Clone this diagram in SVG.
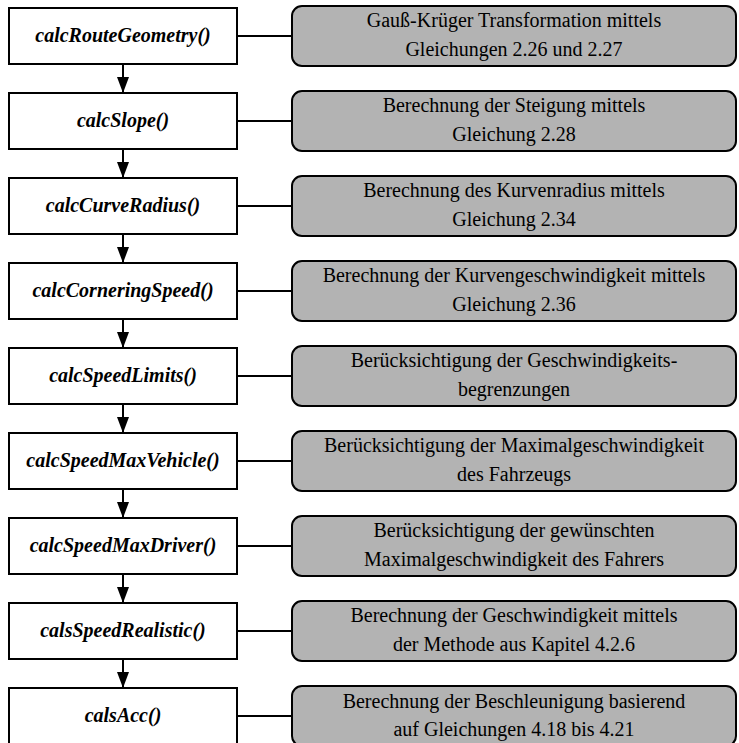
<svg xmlns="http://www.w3.org/2000/svg" width="739" height="743" viewBox="0 0 739 743">
<defs>
<marker id="ah" markerWidth="16" markerHeight="12" refX="16" refY="6" orient="auto" markerUnits="userSpaceOnUse" viewBox="0 0 16 12">
<path d="M0,0 L16,6 L0,12 Z" fill="#000"/>
</marker>
</defs>
<g fill="#fff" stroke="#000" stroke-width="2">
<g id="n1"><rect x="9" y="8" width="228" height="56"/></g>
<g id="n2"><rect x="9" y="93" width="228" height="56"/></g>
<g id="n3"><rect x="9" y="178" width="228" height="56"/></g>
<g id="n4"><rect x="9" y="263" width="228" height="56"/></g>
<g id="n5"><rect x="9" y="348" width="228" height="56"/></g>
<g id="n6"><rect x="9" y="433" width="228" height="56"/></g>
<g id="n7"><rect x="9" y="518" width="228" height="56"/></g>
<g id="n8"><rect x="9" y="603" width="228" height="56"/></g>
<g id="n9"><rect x="9" y="688" width="228" height="56"/></g>
</g>
<g fill="#b3b3b3" stroke="#000" stroke-width="2">
<g id="d1"><rect x="292" y="6" width="444" height="60" rx="10"/></g>
<g id="d2"><rect x="292" y="91" width="444" height="60" rx="10"/></g>
<g id="d3"><rect x="292" y="176" width="444" height="60" rx="10"/></g>
<g id="d4"><rect x="292" y="261" width="444" height="60" rx="10"/></g>
<g id="d5"><rect x="292" y="346" width="444" height="60" rx="10"/></g>
<g id="d6"><rect x="292" y="431" width="444" height="60" rx="10"/></g>
<g id="d7"><rect x="292" y="516" width="444" height="60" rx="10"/></g>
<g id="d8"><rect x="292" y="601" width="444" height="60" rx="10"/></g>
<g id="d9"><rect x="292" y="686" width="444" height="60" rx="10"/></g>
</g>
<g>
<text font-family="Liberation Serif" font-size="20" font-weight="bold" font-style="italic" text-anchor="middle" x="123" y="42">calcRouteGeometry()</text>
<text font-family="Liberation Serif" font-size="20" font-weight="bold" font-style="italic" text-anchor="middle" x="123" y="127">calcSlope()</text>
<text font-family="Liberation Serif" font-size="20" font-weight="bold" font-style="italic" text-anchor="middle" x="123" y="212">calcCurveRadius()</text>
<text font-family="Liberation Serif" font-size="20" font-weight="bold" font-style="italic" text-anchor="middle" x="123" y="297">calcCorneringSpeed()</text>
<text font-family="Liberation Serif" font-size="20" font-weight="bold" font-style="italic" text-anchor="middle" x="123" y="382">calcSpeedLimits()</text>
<text font-family="Liberation Serif" font-size="20" font-weight="bold" font-style="italic" text-anchor="middle" x="123" y="467">calcSpeedMaxVehicle()</text>
<text font-family="Liberation Serif" font-size="20" font-weight="bold" font-style="italic" text-anchor="middle" x="123" y="552">calcSpeedMaxDriver()</text>
<text font-family="Liberation Serif" font-size="20" font-weight="bold" font-style="italic" text-anchor="middle" x="123" y="637">calsSpeedRealistic()</text>
<text font-family="Liberation Serif" font-size="20" font-weight="bold" font-style="italic" text-anchor="middle" x="123" y="722">calsAcc()</text>
</g>
<g>
<text font-family="Liberation Serif" font-size="20" text-anchor="middle" x="514" y="27">Gauß-Krüger Transformation mittels</text><text font-family="Liberation Serif" font-size="20" text-anchor="middle" x="514" y="56">Gleichungen 2.26 und 2.27</text>
<text font-family="Liberation Serif" font-size="20" text-anchor="middle" x="514" y="112">Berechnung der Steigung mittels</text><text font-family="Liberation Serif" font-size="20" text-anchor="middle" x="514" y="141">Gleichung 2.28</text>
<text font-family="Liberation Serif" font-size="20" text-anchor="middle" x="514" y="197">Berechnung des Kurvenradius mittels</text><text font-family="Liberation Serif" font-size="20" text-anchor="middle" x="514" y="226">Gleichung 2.34</text>
<text font-family="Liberation Serif" font-size="20" text-anchor="middle" x="514" y="282">Berechnung der Kurvengeschwindigkeit mittels</text><text font-family="Liberation Serif" font-size="20" text-anchor="middle" x="514" y="311">Gleichung 2.36</text>
<text font-family="Liberation Serif" font-size="20" text-anchor="middle" x="514" y="367">Berücksichtigung der Geschwindigkeits-</text><text font-family="Liberation Serif" font-size="20" text-anchor="middle" x="514" y="396">begrenzungen</text>
<text font-family="Liberation Serif" font-size="20" text-anchor="middle" x="514" y="452">Berücksichtigung der Maximalgeschwindigkeit</text><text font-family="Liberation Serif" font-size="20" text-anchor="middle" x="514" y="481">des Fahrzeugs</text>
<text font-family="Liberation Serif" font-size="20" text-anchor="middle" x="514" y="537">Berücksichtigung der gewünschten</text><text font-family="Liberation Serif" font-size="20" text-anchor="middle" x="514" y="566">Maximalgeschwindigkeit des Fahrers</text>
<text font-family="Liberation Serif" font-size="20" text-anchor="middle" x="514" y="622">Berechnung der Geschwindigkeit mittels</text><text font-family="Liberation Serif" font-size="20" text-anchor="middle" x="514" y="651">der Methode aus Kapitel 4.2.6</text>
<text font-family="Liberation Serif" font-size="20" text-anchor="middle" x="514" y="708">Berechnung der Beschleunigung basierend</text><text font-family="Liberation Serif" font-size="20" text-anchor="middle" x="514" y="736">auf Gleichungen 4.18 bis 4.21</text>
</g>
<g id="connectors" stroke="#000" stroke-width="2" fill="none">
<line x1="123" y1="64" x2="123" y2="93" marker-end="url(#ah)"/>
<line x1="123" y1="149" x2="123" y2="178" marker-end="url(#ah)"/>
<line x1="123" y1="234" x2="123" y2="263" marker-end="url(#ah)"/>
<line x1="123" y1="319" x2="123" y2="348" marker-end="url(#ah)"/>
<line x1="123" y1="404" x2="123" y2="433" marker-end="url(#ah)"/>
<line x1="123" y1="489" x2="123" y2="518" marker-end="url(#ah)"/>
<line x1="123" y1="574" x2="123" y2="603" marker-end="url(#ah)"/>
<line x1="123" y1="659" x2="123" y2="688" marker-end="url(#ah)"/>
<line x1="237" y1="36" x2="292" y2="36"/>
<line x1="237" y1="121" x2="292" y2="121"/>
<line x1="237" y1="206" x2="292" y2="206"/>
<line x1="237" y1="291" x2="292" y2="291"/>
<line x1="237" y1="376" x2="292" y2="376"/>
<line x1="237" y1="461" x2="292" y2="461"/>
<line x1="237" y1="546" x2="292" y2="546"/>
<line x1="237" y1="631" x2="292" y2="631"/>
<line x1="237" y1="716" x2="292" y2="716"/>
</g>
</svg>
